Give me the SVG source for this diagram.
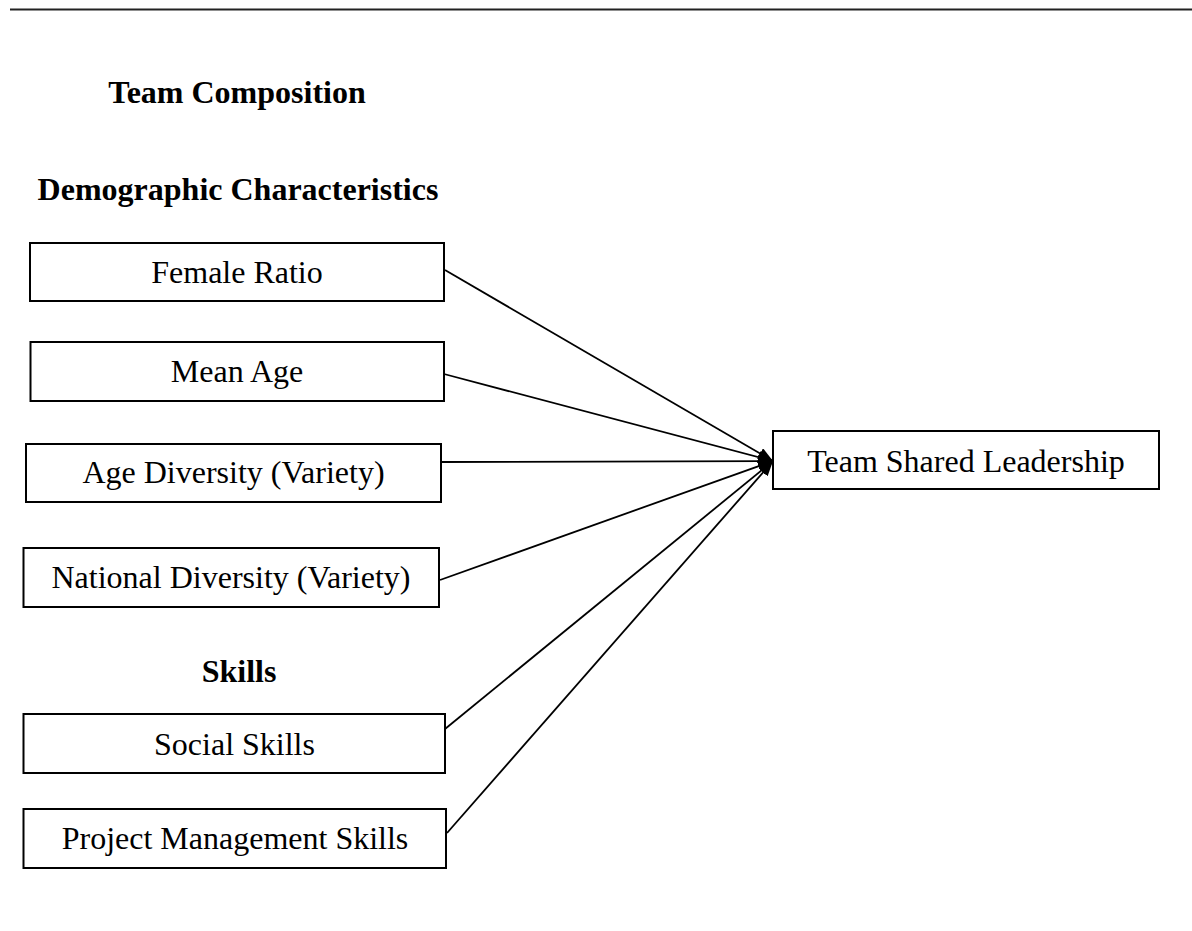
<svg xmlns="http://www.w3.org/2000/svg" width="1192" height="931" viewBox="0 0 1192 931">
<style>
.box{fill:#fff;stroke:#000;stroke-width:2}
.t{font-family:"Liberation Serif","Times New Roman",serif;font-size:32px;fill:#000;text-anchor:middle}
.b{font-weight:bold}
.c{stroke:#000;stroke-width:1.8;fill:none;marker-end:url(#ah)}
</style>
<defs>
<marker id="ah" markerUnits="userSpaceOnUse" markerWidth="16" markerHeight="12" refX="15" refY="6" orient="auto">
<path d="M0,0 L15,6 L0,12 z" fill="#000"/>
</marker>
</defs>
<rect width="1192" height="931" fill="#fff"/>
<line x1="10" y1="9.5" x2="1192" y2="9.5" stroke="#222" stroke-width="2"/>
<g id="headings">
<text class="t b" x="237" y="103">Team Composition</text>
<text class="t b" x="238" y="200">Demographic Characteristics</text>
<text class="t b" x="239" y="682">Skills</text>
</g>
<g id="connectors">
<line class="c" x1="445" y1="270" x2="773" y2="461"/>
<line class="c" x1="444" y1="374" x2="773" y2="461"/>
<line class="c" x1="441" y1="462" x2="773" y2="461"/>
<line class="c" x1="440" y1="580" x2="773" y2="461"/>
<line class="c" x1="445" y1="729" x2="773" y2="461"/>
<line class="c" x1="447" y1="833" x2="773" y2="461"/>
</g>
<g id="female-ratio">
<rect class="box" x="30" y="243" width="414" height="58"/>
<text class="t" x="237" y="283">Female Ratio</text>
</g>
<g id="mean-age">
<rect class="box" x="30.5" y="342" width="413.5" height="59"/>
<text class="t" x="237" y="382">Mean Age</text>
</g>
<g id="age-diversity">
<rect class="box" x="26" y="444" width="415" height="58"/>
<text class="t" x="233.5" y="483">Age Diversity (Variety)</text>
</g>
<g id="national-diversity">
<rect class="box" x="23.5" y="548" width="415.5" height="59"/>
<text class="t" x="231" y="588">National Diversity (Variety)</text>
</g>
<g id="social-skills">
<rect class="box" x="23.5" y="714" width="421.5" height="59"/>
<text class="t" x="234.5" y="755">Social Skills</text>
</g>
<g id="project-management-skills">
<rect class="box" x="23.5" y="809" width="422.5" height="59"/>
<text class="t" x="235" y="849">Project Management Skills</text>
</g>
<g id="team-shared-leadership">
<rect class="box" x="773" y="431" width="386" height="58"/>
<text class="t" x="966" y="472">Team Shared Leadership</text>
</g>
</svg>
